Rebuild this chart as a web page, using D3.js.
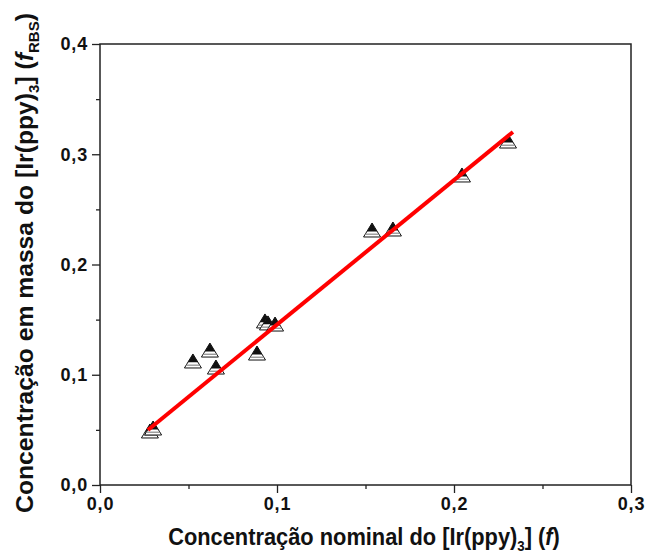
<!DOCTYPE html>
<html>
<head>
<meta charset="utf-8">
<script src="https://cdn.jsdelivr.net/npm/d3@7"></script>
<style>
  body { margin: 0; background: #fff; }
  text { font-family: "Liberation Sans", Arial, sans-serif; font-weight: bold; }
</style>
</head>
<body>
<div id="chart"></div>
<script>
// nominal concentration (f) vs RBS mass concentration
const nominal = [0.0282, 0.0300, 0.0525, 0.0621, 0.0655, 0.0887, 0.0932, 0.0949, 0.0989, 0.1537, 0.1655, 0.2045, 0.2305];
const rbs     = [0.0490, 0.0517, 0.1125, 0.1224, 0.1070, 0.1197, 0.1488, 0.1470, 0.1460, 0.2313, 0.2322, 0.2812, 0.3120];
// fitted line end points
const fitX = [0.0271, 0.2333];
const fitY = [0.0499, 0.3202];
const xTicks = [0, 0.1, 0.2, 0.3];
const yTicks = [0, 0.1, 0.2, 0.3, 0.4];

const width = 656, height = 553;
const margin = {top: 44, right: 25, bottom: 68, left: 100};

const svg = d3.select('#chart').append('svg')
    .attr('width', width).attr('height', height);

const x = d3.scaleLinear().domain([0, 0.3]).range([margin.left, width - margin.right]);
const y = d3.scaleLinear().domain([0, 0.4]).range([height - margin.bottom, margin.top]);
const fmt = d => d3.format('.1f')(d).replace('.', ',');

// minor ticks
svg.append('g')
    .attr('transform', `translate(0,${y(0)})`)
    .call(d3.axisBottom(x).tickValues([0.05, 0.15, 0.25]).tickSize(4).tickFormat(''))
    .call(g => g.select('.domain').remove());
svg.append('g')
    .attr('transform', `translate(${x(0)},0)`)
    .call(d3.axisLeft(y).tickValues([0.05, 0.15, 0.25, 0.35]).tickSize(4).tickFormat(''))
    .call(g => g.select('.domain').remove());

// major axes
svg.append('g')
    .attr('transform', `translate(0,${y(0)})`)
    .call(d3.axisBottom(x).tickValues(xTicks).tickSize(8).tickPadding(4).tickFormat(fmt));
svg.append('g')
    .attr('transform', `translate(${x(0)},0)`)
    .call(d3.axisLeft(y).tickValues(yTicks).tickSize(8).tickPadding(4).tickFormat(fmt));

svg.selectAll('.tick line').attr('stroke', '#222').attr('stroke-width', 1.3);
svg.selectAll('.domain').remove();
svg.selectAll('.tick text').attr('font-size', 18).attr('letter-spacing', 0.8).attr('fill', '#111');

// frame
svg.append('rect')
    .attr('x', x(0)).attr('y', y(0.4))
    .attr('width', x(0.3) - x(0)).attr('height', y(0) - y(0.4))
    .attr('fill', 'none').attr('stroke', '#222').attr('stroke-width', 1.5);

// markers: half-filled up triangles
const pts = nominal.map((d, i) => ({x: d, y: rbs[i]}));
const tw = 8.5, th = 14;
const mk = svg.append('g').selectAll('g').data(pts).join('g')
    .attr('transform', d => `translate(${x(d.x)},${y(d.y)})`);
mk.append('path')
    .attr('d', `M0,${-th/2}L${tw},${th/2}L${-tw},${th/2}Z`)
    .attr('fill', '#fff').attr('stroke', '#111').attr('stroke-width', 1);
mk.append('path')
    .attr('d', `M0,${-th/2}L${tw*0.6},${th*0.1}L${-tw*0.6},${th*0.1}Z`)
    .attr('fill', '#111');
mk.append('line')
    .attr('x1', -tw*0.8).attr('x2', tw*0.8)
    .attr('y1', th*0.3).attr('y2', th*0.3)
    .attr('stroke', '#888').attr('stroke-width', 1.2);

// linear fit
svg.append('path')
    .datum(fitX.map((d, i) => ({x: d, y: fitY[i]})))
    .attr('fill', 'none')
    .attr('stroke', '#ff0000')
    .attr('stroke-width', 4)
    .attr('d', d3.line().x(d => x(d.x)).y(d => y(d.y)));

// axis titles, stretched along the text to the reference length
function title(g, parts) {
    const t = g.append('text').attr('text-anchor', 'middle').attr('font-size', 23).attr('fill', '#111');
    parts.forEach(p => {
        const s = t.append('tspan').text(p.t);
        if (p.sub) s.attr('font-size', 14).attr('dy', 6);
        if (p.up) s.attr('dy', -6);
        if (p.it) s.attr('font-style', 'italic');
    });
    return t;
}
const xg = svg.append('g');
const xt = title(xg, [
    {t: 'Concentração nominal do [Ir(ppy)'}, {t: '3', sub: true}, {t: '] (', up: true},
    {t: 'f', it: true}, {t: ')'}]);
const xk = 392 / xt.node().getComputedTextLength();
xg.attr('transform', `translate(364,545) scale(${xk},1)`);

const yg = svg.append('g');
const yt = title(yg, [
    {t: 'Concentração em massa do [Ir(ppy)'}, {t: '3', sub: true}, {t: '] (', up: true},
    {t: 'f', it: true}, {t: 'RBS', sub: true}, {t: ')', up: true}]);
const yk = 500 / yt.node().getComputedTextLength();
yg.attr('transform', `translate(33,263) rotate(-90) scale(${yk},1)`);
</script>
</body>
</html>
